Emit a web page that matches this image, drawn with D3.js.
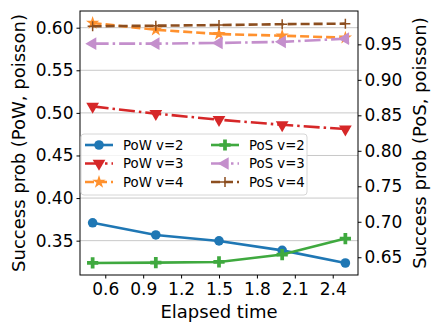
<!DOCTYPE html>
<html>
<head>
<meta charset="utf-8">
<script src="https://cdn.jsdelivr.net/npm/d3@7"></script>
<style>
  body { margin: 0; background: #fff; }
  text { font-family: "DejaVu Sans", sans-serif; }
</style>
</head>
<body>
<div id="chart"></div>
<script>
// elapsed time on x, success prob on two y axes
let times = [0.5, 1.0, 1.5, 2.0, 2.5];
let xTicks = [0.6, 0.9, 1.2, 1.5, 1.8, 2.1, 2.4];
let leftTicks = [0.35, 0.40, 0.45, 0.50, 0.55, 0.60];
let rightTicks = [0.65, 0.70, 0.75, 0.80, 0.85, 0.90, 0.95];

let powV2 = [0.371, 0.3567, 0.3497, 0.3386, 0.3238];
let powV3 = [0.5076, 0.4991, 0.4920, 0.4860, 0.4810];
let powV4 = [0.6055, 0.5976, 0.5925, 0.5906, 0.5882];
let posV2 = [0.642, 0.6425, 0.6434, 0.6538, 0.6763];
let posV3 = [0.951, 0.951, 0.952, 0.9535, 0.958];
let posV4 = [0.9755, 0.9763, 0.9772, 0.9784, 0.9792];

let series = [
  {name: "PoW v=2", vals: powV2, axis: "L", color: "#1f77b4", dash: null, marker: "circle"},
  {name: "PoW v=3", vals: powV3, axis: "L", color: "#d62728", dash: "16,4,2.5,4", marker: "tridown"},
  {name: "PoW v=4", vals: powV4, axis: "L", color: "#ff912e", dash: "9,4", marker: "star"},
  {name: "PoS v=2", vals: posV2, axis: "R", color: "#3fa93f", dash: null, marker: "fatplus"},
  {name: "PoS v=3", vals: posV3, axis: "R", color: "#c48fcc", dash: "16,4,2.5,4", marker: "trileft"},
  {name: "PoS v=4", vals: posV4, axis: "R", color: "#8c4e1f", dash: "9,4", marker: "plus"}
];

let svg = d3.select("#chart").append("svg").attr("width", 440).attr("height", 330);
let pLeft = 80, pRight = 358, pTop = 11, pBottom = 275;

let x = d3.scaleLinear().domain([0.4, 2.6]).range([pLeft, pRight]);
let yL = d3.scaleLinear().domain([0.3097, 0.6196]).range([pBottom, pTop]);
let yR = d3.scaleLinear().domain([0.625, 0.997]).range([pBottom, pTop]);

// grid from left axis
svg.append("g").selectAll("line").data(leftTicks).enter().append("line")
  .attr("x1", pLeft).attr("x2", pRight)
  .attr("y1", d => yL(d)).attr("y2", d => yL(d))
  .attr("stroke", "#c8c8c8").attr("stroke-width", 1);

function drawMarker(g, type, cx, cy, color) {
  if (type == "circle") {
    g.append("circle").attr("cx", cx).attr("cy", cy).attr("r", 4.8).attr("fill", color);
  } else if (type == "tridown") {
    g.append("path").attr("d", d3.symbol().type(d3.symbolTriangle).size(70)())
      .attr("transform", `translate(${cx},${cy}) rotate(180)`).attr("fill", color);
  } else if (type == "trileft") {
    g.append("path").attr("d", d3.symbol().type(d3.symbolTriangle).size(70)())
      .attr("transform", `translate(${cx},${cy}) rotate(-90)`).attr("fill", color);
  } else if (type == "star") {
    g.append("path").attr("d", d3.symbol().type(d3.symbolStar).size(55)())
      .attr("transform", `translate(${cx},${cy})`).attr("fill", color);
  } else if (type == "fatplus") {
    g.append("path").attr("d", d3.symbol().type(d3.symbolCross).size(70)())
      .attr("transform", `translate(${cx},${cy})`).attr("fill", color);
  } else if (type == "plus") {
    g.append("path").attr("d", `M${cx - 5},${cy}H${cx + 5}M${cx},${cy - 5}V${cy + 5}`)
      .attr("stroke", color).attr("stroke-width", 1.5).attr("fill", "none");
  }
}

let plot = svg.append("g");
series.forEach(function (s) {
  let ys = s.axis == "L" ? yL : yR;
  let pts = times.map((t, i) => [x(t), ys(s.vals[i])]);
  plot.append("path").attr("d", d3.line()(pts))
    .attr("fill", "none").attr("stroke", s.color).attr("stroke-width", 2.6)
    .attr("stroke-dasharray", s.dash);
  pts.forEach(p => drawMarker(plot, s.marker, p[0], p[1], s.color));
});

// axes
let ax = svg.append("g").attr("transform", `translate(0,${pBottom})`)
  .call(d3.axisBottom(x).tickValues(xTicks).tickFormat(d3.format(".1f")).tickSize(3.5).tickSizeOuter(0));
let axl = svg.append("g").attr("transform", `translate(${pLeft},0)`)
  .call(d3.axisLeft(yL).tickValues(leftTicks).tickFormat(d3.format(".2f")).tickSize(3.5).tickSizeOuter(0));
let axr = svg.append("g").attr("transform", `translate(${pRight},0)`)
  .call(d3.axisRight(yR).tickValues(rightTicks).tickFormat(d3.format(".2f")).tickSize(3.5).tickSizeOuter(0));
[ax, axl, axr].forEach(a => {
  a.select(".domain").remove();
  a.selectAll("text").attr("font-size", 17).attr("fill", "#000");
  a.selectAll("line").attr("stroke", "#000");
});
ax.selectAll("text").attr("dy", "0.78em");

svg.append("rect").attr("x", pLeft).attr("y", pTop)
  .attr("width", pRight - pLeft).attr("height", pBottom - pTop)
  .attr("fill", "none").attr("stroke", "#000").attr("stroke-width", 1);

svg.append("text").attr("x", (pLeft + pRight) / 2).attr("y", 318)
  .attr("text-anchor", "middle").attr("font-size", 18).text("Elapsed time");
svg.append("text").attr("transform", `translate(25,${(pTop + pBottom) / 2}) rotate(-90)`)
  .attr("text-anchor", "middle").attr("font-size", 18).text("Success prob (PoW, poisson)");
svg.append("text").attr("transform", `translate(426,${(pTop + pBottom) / 2}) rotate(-90)`)
  .attr("text-anchor", "middle").attr("font-size", 18).text("Success prob (PoS, poisson)");

// legend
let lg = svg.append("g");
lg.append("rect").attr("x", 81).attr("y", 134).attr("width", 226).attr("height", 61)
  .attr("rx", 3).attr("fill", "#fff").attr("fill-opacity", 0.8)
  .attr("stroke", "#d6d6d6").attr("stroke-width", 1);
series.forEach(function (s, i) {
  let col = Math.floor(i / 3), row = i % 3;
  let hx = col == 0 ? 85 : 211;
  let hy = 145 + row * 18.5;
  lg.append("line").attr("x1", hx).attr("x2", hx + 28).attr("y1", hy).attr("y2", hy)
    .attr("stroke", s.color).attr("stroke-width", 2.6).attr("stroke-dasharray", s.dash);
  drawMarker(lg, s.marker, hx + 14, hy, s.color);
  lg.append("text").attr("x", hx + 38).attr("y", hy).attr("dy", "0.36em")
    .attr("font-size", 13.3).text(s.name);
});
</script>
</body>
</html>
